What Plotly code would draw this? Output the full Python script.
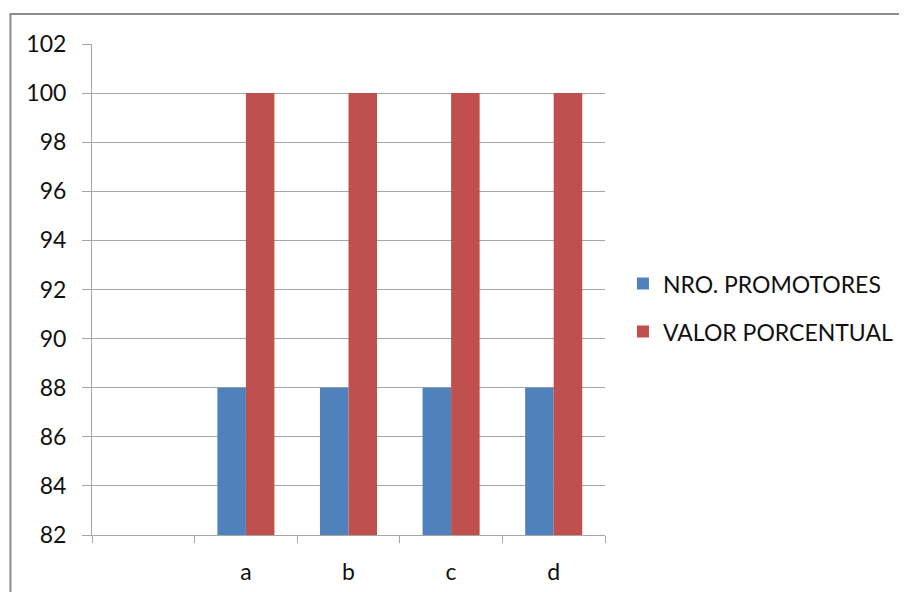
import plotly.graph_objects as go

categories = [" ", "a", "b", "c", "d"]
nro_promotores = [None, 88, 88, 88, 88]
valor_porcentual = [None, 100, 100, 100, 100]
y_ticks = [82, 84, 86, 88, 90, 92, 94, 96, 98, 100, 102]

fig = go.Figure()
fig.add_trace(go.Bar(x=categories, y=nro_promotores, name="NRO. PROMOTORES",
                     marker=dict(color="#4F81BD", line=dict(width=0)), legendgroup="g1"))
fig.add_trace(go.Bar(x=categories, y=valor_porcentual, name="VALOR PORCENTUAL",
                     marker=dict(color="#C0504D", line=dict(width=0)), legendgroup="g2"))

font_family = "Lato, 'Open Sans', sans-serif"
fig.update_layout(
    width=907, height=592,
    margin=dict(l=84, r=310, t=36, b=65),
    paper_bgcolor="white", plot_bgcolor="white",
    barmode="group", bargap=0.444, bargroupgap=0,
    font=dict(family=font_family, size=23, color="#111111"),
    legend=dict(x=1.035, y=0.463, xanchor="left", yanchor="middle",
                font=dict(size=23, color="#111111"), tracegroupgap=15,
                traceorder="grouped", itemwidth=30),
    shapes=[dict(type="rect", xref="paper", yref="paper",
                 x0=-0.159, x1=2.0, y0=-0.3, y1=1.061,
                 line=dict(color="#8C8C8C", width=2), layer="below")],
)
fig.update_yaxes(range=[82, 102], tickvals=y_ticks, showgrid=True, gridcolor="#A6A6A6",
                 gridwidth=1, showline=True, linecolor="#A6A6A6", linewidth=1,
                 ticks="outside", ticklen=9, tickcolor="#A6A6A6", zeroline=False,
                 ticklabelstandoff=11)
fig.update_xaxes(showgrid=False, showline=True, linecolor="#A6A6A6", linewidth=1,
                 ticks="outside", ticklen=7, tickcolor="#A6A6A6", tickson="boundaries",
                 ticklabelstandoff=16)

fig.write_html("out.html")
